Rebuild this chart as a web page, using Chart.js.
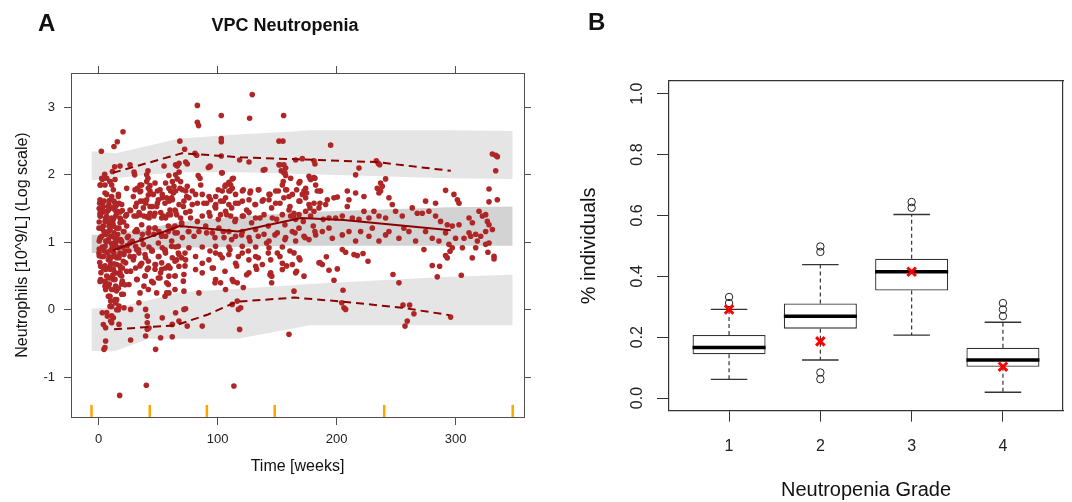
<!DOCTYPE html>
<html>
<head>
<meta charset="utf-8">
<script src="https://cdn.jsdelivr.net/npm/chart.js@4.4.1/dist/chart.umd.min.js"></script>
<style>
  html, body { margin:0; padding:0; background:#fff; }
  #wrap { position:relative; width:1072px; height:502px; overflow:hidden; font-family:"Liberation Sans", Arial, sans-serif; }
  canvas { position:absolute; top:0; }
  #cA { left:0; }
  #cB { left:540px; }
  .tag { position:absolute; font-weight:bold; font-size:24px; line-height:24px; color:#111; }
</style>
</head>
<body>
<div id="wrap">
  <canvas id="cA" width="570" height="502"></canvas>
  <canvas id="cB" width="532" height="502"></canvas>
  <div class="tag" style="left:38px;top:11px">A</div>
  <div class="tag" style="left:588px;top:10px">B</div>
</div>
<script>
// ---------- panel A : VPC ----------
const xTicksA = [0, 100, 200, 300];
const yTicksA = [-1, 0, 1, 2, 3];
const binEdges = [-6, 43, 91, 148, 240, 348];

// simulated prediction intervals (vertices)
const bandTime = [-6, 14, 42, 68, 117, 160, 177, 294, 348];
const hiTop  = [2.35, 2.32, 2.43, 2.54, 2.60, 2.64, 2.66, 2.66, 2.65];
const hiBot  = [1.92, 1.95, 2.00, 2.04, 2.04, 2.02, 2.01, 1.95, 1.94];
const midTop = [1.11, 1.12, 1.21, 1.30, 1.38, 1.43, 1.45, 1.52, 1.53];
const midBot = [0.84, 0.84, 0.88, 0.92, 0.93, 0.95, 0.95, 0.95, 0.95];
const loTop  = [0.02, 0.03, 0.14, 0.26, 0.31, 0.36, 0.38, 0.49, 0.52];
const loBot  = [-0.61, -0.61, -0.43, -0.43, -0.43, -0.29, -0.23, -0.23, -0.23];

// observed percentiles
const p95Time = [12, 70, 120, 168, 233, 296];
const p95Val  = [2.03, 2.32, 2.26, 2.23, 2.19, 2.06];
const p50Time = [12, 68, 117, 170, 206, 296];
const p50Val  = [0.88, 1.24, 1.16, 1.36, 1.33, 1.18];
const p05Time = [13, 65, 92, 116, 165, 205, 255, 295];
const p05Val  = [-0.29, -0.23, -0.07, 0.12, 0.18, 0.12, 0.03, -0.08];

// observations [time, log neutrophils]
const obsPoints = [
 [129.1,3.19],[83.0,3.03],[83.0,2.78],[84,2.73],[103.1,2.88],[126.9,2.84],[155.5,2.88],[20.5,2.64],[15.7,2.49],[12.9,2.42],[2.3,2.35],[68.3,2.50],[72.3,2.38],[103.1,2.54],[103.1,2.49],[81.0,2.32],[82.4,2.29],[103.1,2.28],[151.6,2.50],[154.9,2.50],[18.0,2.13],[13.5,2.12],[26.4,2.15],[55.0,2.13],[64.7,2.15],[66.1,2.13],[67.6,2.17],[73.2,2.19],[74.5,2.16],[92.2,2.11],[93.6,2.13],[126.4,2.19],[118.5,2.22],[151.6,2.15],[155.7,2.15],[157.2,2.10],[5.1,2.01],[3.1,1.93],[1.7,1.85],[11.6,2.05],[9.5,1.90],[11.0,1.85],[29.8,2.04],[30.3,2.0],[41.5,2.06],[40.4,2.0],[41.5,1.95],[40.4,1.90],[59.1,1.99],[64.7,2.0],[67.6,2.04],[66.1,1.94],[68.9,1.90],[83.7,1.99],[85.2,1.95],[103.9,2.03],[112.3,1.94],[109.5,1.89],[111.0,1.85],[138.4,2.07],[153.5,2.06],[155.7,2.03],[157.2,1.99],
 [34.8,1.85],[32.5,1.80],[35.3,1.76],[43.2,1.84],[43.2,1.76],[41.8,1.70],[49.4,1.76],[53.5,1.71],[56.3,1.88],[59.1,1.80],[62.0,1.90],[63.3,1.83],[60.5,1.76],[64.7,1.76],[70.4,1.78],[73.2,1.76],[74.5,1.83],[78.7,1.76],[81.5,1.71],[85.8,1.85],[87.1,1.71],[92.8,1.68],[98.4,1.68],[106.7,1.85],[103.9,1.76],[109.5,1.76],[112.3,1.80],[115.1,1.71],[120.8,1.76],[127.7,1.76],[134.7,1.78],[143.2,1.71],[148.8,1.76],[154.4,1.85],[157.2,1.78],
 [0.9,1.58],[4.6,1.61],[8.7,1.56],[12.9,1.61],[17.1,1.58],[3.1,1.48],[7.3,1.46],[11.6,1.51],[15.7,1.46],[19.9,1.47],[26.9,1.47],[31.1,1.53],[35.3,1.61],[39.6,1.58],[45.2,1.53],[49.4,1.58],[53.5,1.66],[59.1,1.61],[62.0,1.63],[67.6,1.56],[71.7,1.61],[75.9,1.66],[78.7,1.56],[83.0,1.58],[88.5,1.58],[94.1,1.63],[98.4,1.56],[102.5,1.61],[106.7,1.66],[109.5,1.56],[115.1,1.58],[120.8,1.61],[126.4,1.63],[131.9,1.56],[137.5,1.61],[143.2,1.63],[148.8,1.58],[155.7,1.66],
 [1.7,1.39],[6.0,1.36],[10.1,1.31],[14.4,1.39],[18.5,1.34],[22.7,1.39],[29.8,1.39],[34.0,1.44],[38.1,1.39],[42.4,1.36],[46.5,1.39],[52.2,1.44],[56.3,1.36],[60.5,1.41],[64.7,1.46],[68.9,1.36],[73.2,1.44],[77.3,1.36],[83.0,1.31],[87.1,1.39],[92.8,1.44],[98.4,1.51],[102.5,1.41],[106.7,1.46],[111.0,1.39],[115.1,1.34],[120.8,1.39],[126.4,1.44],[131.9,1.36],[139.0,1.41],[146.0,1.36],[154.4,1.41],
 [0.3,1.21],[4.5,1.16],[8.7,1.24],[12.9,1.14],[17.1,1.21],[21.3,1.16],[1.7,1.07],[6.0,1.02],[10.1,1.09],[14.4,0.99],[18.5,1.04],[24.2,1.07],[28.3,1.02],[32.5,1.16],[36.8,1.12],[42.4,1.21],[46.5,1.12],[50.7,1.16],[56.3,1.09],[62.0,1.21],[66.1,1.14],[70.4,1.07],[75.9,1.16],[80.2,1.09],[84.3,1.16],[90.0,1.24],[95.6,1.14],[101.1,1.21],[105.4,1.07],[109.5,1.16],[115.1,1.09],[120.8,1.16],[126.4,1.07],[131.9,1.19],[139.0,1.12],[143.2,1.02],[150.2,1.14],[157.2,1.07],
 [3.1,0.93],[11.5,0.92],[19.9,0.93],[31.1,0.94],[42.3,0.93],[53.5,0.92],[64.7,0.93],[75.9,0.92],[87.1,0.93],[98.3,0.94],[109.5,0.93],[120.7,0.94],[132.0,0.93],[143.2,0.92],[154.4,0.93],
 [0.3,0.84],[4.5,0.87],[8.7,0.79],[12.9,0.84],[17.1,0.77],[21.3,0.82],[25.5,0.87],[29.7,0.79],[33.9,0.84],[39.5,0.77],[45.1,0.87],
 [50.7,0.79],[56.3,0.84],[61.9,0.77],[67.5,0.82],[73.1,0.74],[81.5,0.79],[87.1,0.69],[92.7,0.74],[98.3,0.84],[103.9,0.77],[109.5,0.82],[115.1,0.69],[120.7,0.84],[126.3,0.74],[132.0,0.79],[137.6,0.67],[144.6,0.74],[150.2,0.84],[154.4,0.69],
 [1.7,0.645],[5.9,0.596],[10.1,0.67],[14.3,0.547],[18.5,0.62],[22.7,0.695],[26.9,0.572],[31.1,0.62],[35.3,0.67],[40.9,0.596],
 [1.7,0.448],[5.9,0.399],[10.1,0.473],[14.3,0.35],[19.9,0.424],[25.5,0.374],[32.5,0.448],[38.1,0.35],
 [47.9,0.67],[52.1,0.547],[56.3,0.62],[59.1,0.498],
 [67.5,0.645],[71.7,0.522],[81.5,0.596],[87.1,0.547],[95.5,0.62],[98.3,0.448],[102.5,0.399],
 [106.7,0.30],[112.3,0.448],[116.5,0.399],
 [126.3,0.547],[132.0,0.645],[144.6,0.547],[145.5,0.498],[154.4,0.596],
 [5.9,0.30],[8.7,0.20],[10.1,0.128],[14.3,0.10],[17.1,0.054],[21.3,0.03],[26.9,0.005],
 [33.9,0.103],[39.5,0.005],
 [59.1,0.25],[71.7,0.276],[84.3,0.25],[71.7,0.005],[73.1,0.014],
 [3.1,-0.045],[7.3,-0.094],[10.1,-0.168],[5.9,-0.266],[11.0,-0.193],
 [17.1,-0.217],[40.9,-0.094],[40.9,-0.193],[40.9,-0.29],[42.3,-0.27],
 [53.5,-0.12],[64.7,-0.045],[67.5,-0.168],[61.9,-0.217],[74.5,-0.242],[87.1,-0.242],
 [112.3,0.079],[116.5,0.128],[119.4,0.03],[117.5,0.005],
 [5.9,-0.464],[5.3,-0.562],[4.5,-0.587],[26.9,-0.449],[39.5,-0.39],[52.1,-0.414],[61.9,-0.40],[47.9,-0.587],
 [118.5,-0.291],[40.1,-1.12],[17.7,-1.27],[113.7,-1.13],[160.0,-0.365],
 [195.0,2.44],[330.9,2.31],[333.7,2.29],[335.1,2.27],[333.7,2.06],
 [165.6,2.22],[171.2,2.24],[181.0,2.21],[181.8,2.16],
 [233.4,2.21],[235.1,2.17],[236.2,2.15],
 [216.0,2.0],[218.8,2.10],[237.0,1.88],[241.2,1.94],[238.4,1.83],
 [161.4,1.95],[168.4,1.88],[176.8,1.98],[178.2,1.93],[181.0,1.96],[182.4,1.85],[174.0,1.80],[172.6,1.76],
 [183.8,1.76],[186.6,1.76],[162.8,1.71],[160.0,1.68],[171.2,1.71],[174.0,1.66],[168.4,1.61],
 [192.2,1.63],[197.8,1.66],[200.6,1.67],[209.0,1.76],[210.4,1.63],[216.0,1.73],[223.0,1.68],[234.2,1.80],[235.6,1.73],[237.0,1.76],[244.0,1.66],[246.8,1.56],
 [274.8,1.61],[283.2,1.58],[291.6,1.77],[298.6,1.71],[301.5,1.63],[302.9,1.58],[328.1,1.79],[328.1,1.60],[335.1,1.63],
 [160,1.48],[164.2,1.43],[161.4,1.39],[168.4,1.41],[165.6,1.34],[174,1.46],[176.8,1.56],[181,1.58],[178.2,1.39],[181,1.46],[185.2,1.51],[190.8,1.56],[193.6,1.36],[199.2,1.36],[204.8,1.39],[209,1.53],[213.2,1.36],[218.8,1.34],[223,1.46],[227.2,1.36],[231.4,1.46],[235.6,1.39],[241.2,1.36],[249.6,1.46],[255.2,1.39],[263.6,1.51],[267.8,1.43],[272,1.43],[277.6,1.46],[283.2,1.39],[287.4,1.31],[293,1.26],[297.2,1.24],[302.9,1.26],[311.3,1.36],[314.1,1.29],[319.7,1.46],[322.5,1.39],[325.3,1.41],[326.7,1.31],[328.1,1.26],[330.9,1.19],[325.3,1.16],[316.9,1.12],[311.3,1.14],[307.1,1.06],[312.7,1.09],[321.1,1.09],[318.3,1.02],[328.1,0.99],
 [162.8,1.16],[168.4,1.21],[172.6,1.09],[165.6,1.02],[176.8,1.04],[182.4,1.11],[188,1.16],[193.6,1.21],[196.4,1.06],[204.8,1.11],[210.4,1.16],[216,1.02],[220.2,1.16],[227.2,1.09],[230,1.21],[235.6,1.02],[241.2,1.11],[244,1.16],[252.4,1.06],[256.6,1.21],[260.8,1.16],[266.4,1.02],[274.8,1.16],[280.4,1.06],[286,1.02],[291.6,1.14],[294.4,0.97],[300,1.06],[297.2,0.92],[305.7,0.92],[316.9,0.92],[325.3,0.97],
 [164.2,0.843],[168.4,0.769],[162.8,0.67],[165.6,0.547],[172.6,0.498],
 [185.2,0.695],[188,0.67],[193.6,0.586],[200.6,0.606],[191.4,0.784],[197.8,0.438],
 [204.8,0.892],[207.6,0.853],[214.6,0.818],[217.4,0.803],[222.2,0.833],[226.4,0.72],
 [247.4,0.522],[252.4,0.399],
 [164.2,0.276],[205.4,0.29],[204.3,0.103],[206.2,0.03],[207.6,0.005],
 [255.8,0.069],[261.4,0.069],[265,-0.059],[259.4,-0.168],[257.5,-0.242],[295.8,-0.109],
 [273.4,0.892],[280.4,0.655],[286.6,0.645],[284.6,0.488],[291.6,0.803],[293,0.769],[295.3,0.867],[304.8,0.512],[314,0.769],[327.2,0.853],[332.3,0.793],[332.3,0.754],
 [1.2,1.85],[6.8,1.95],[13.8,1.93],[5.4,1.73],[11.0,1.68],[16.6,1.71],[2.6,1.58],[8.2,1.53],[13.8,1.48],[19.4,1.56],[1.2,1.43],[6.8,1.38],[12.4,1.34],[18.0,1.36],[23.6,1.41],
 [4.0,1.24],[9.6,1.19],[15.2,1.21],[20.8,1.16],[2.6,1.09],[8.2,1.04],[13.8,1.06],[19.4,1.01],[25.0,1.09],[5.4,0.94],[11.0,0.89],[16.6,0.92],[22.2,0.87],
 [4.0,0.79],[9.6,0.74],[15.2,0.77],[20.8,0.72],[26.4,0.79],[6.8,0.62],[12.4,0.60],[18.0,0.65],[23.6,0.57],[8.2,0.47],[13.8,0.45],[19.4,0.50],
 [5.4,0.35],[11.0,0.30],[16.6,0.32],[22.2,0.37],[8.2,0.20],[13.8,0.15],[19.4,0.23],[9.6,0.05],[15.2,0.00],[11.0,-0.09],
 [30.6,1.78],[36.2,1.85],[41.8,1.80],[47.4,1.88],[32.0,1.58],[37.6,1.61],[43.2,1.53],[50.2,1.63],[55.8,1.58],[61.4,1.66],
 [34.8,1.41],[40.4,1.38],[47.4,1.43],[53.0,1.36],[58.6,1.41],[64.2,1.48],[32.0,1.19],[36.2,1.04],[41.8,1.14],[47.4,1.21],[53.0,1.09],[58.6,1.16],[64.2,1.24],[69.8,1.29],
 [33.4,0.89],[39.0,0.82],[44.6,0.89],[50.2,0.79],[55.8,0.87],[61.4,0.94],[67.0,0.84],[36.2,0.69],[41.8,0.62],[47.4,0.67],[53.0,0.60],[58.6,0.65],[64.2,0.72],[69.8,0.77],
 [39.0,0.50],[44.6,0.42],[50.2,0.47],[57.2,0.40],[64.2,0.50],[41.8,0.30],[48.8,0.25],[55.8,0.20],[64.2,0.30],
 [0.5,1.50],[4,1.45],[9,1.62],[12,1.28],[16,1.12],[0.5,1.02],[6,1.12],[11,0.98],[17,0.80],[1,0.70],[7,0.85],[13,0.68],[18,0.55],[2,0.55],[9,0.38],[15,0.28],
 [0.5,0.90],[4,0.62],[21,1.30],[24,0.95],[0.5,1.30],[3,1.20],[15,1.55],[20,0.62],[0.5,0.80],[5,0.42],[12,0.52],[8,1.30],[14,1.0],[18,1.45],
 [2.6,1.95],[5.4,1.85],[9.6,1.90],[12.4,1.78],[6.8,1.71],[1.2,1.63],[4.0,1.53],[8.2,1.48],[13.8,1.58],[16.6,1.68],[1.2,1.39],[5.4,1.31],[11.0,1.36],[15.2,1.43],
 [2.6,1.21],[8.2,1.16],[12.4,1.24],[18.0,1.29],[1.2,1.06],[6.8,1.01],[11.0,1.09],[16.6,1.04],[4.0,0.92],[9.6,0.87],[13.8,0.94],[2.6,0.79],[8.2,0.74],[12.4,0.79],[18.0,0.84],
 [5.4,0.65],[9.6,0.60],[15.2,0.67],[6.8,0.50],[12.4,0.45],[18.0,0.52],[8.2,0.35],[13.8,0.30],[19.4,0.38],[9.6,0.20],[15.2,0.15],[20.8,0.23],[11.0,0.05],[16.6,0.00],[6.8,-0.04],[12.4,-0.12],[4.0,-0.22],[1.2,0.42],
 [23.6,1.80],[29.2,1.68],[34.8,1.75],[40.4,1.63],[46.0,1.71],[51.6,1.78],[57.2,1.66],[62.8,1.73],[68.4,1.80],[74.0,1.68],
 [26.4,1.48],[32.0,1.39],[37.6,1.51],[43.2,1.43],[48.8,1.53],[54.4,1.39],[60.0,1.48],[65.6,1.41],[71.2,1.53],[76.8,1.46],
 [23.6,1.24],[30.6,1.16],[36.2,1.26],[41.8,1.14],[47.4,1.21],[53.0,1.11],[58.6,1.24],[64.2,1.14],[69.8,1.26],[75.4,1.16],
 [26.4,0.99],[32.0,0.89],[37.6,0.97],[44.6,0.87],[50.2,0.99],[55.8,0.89],[61.4,1.02],[67.0,0.94],[72.6,0.84],
 [29.2,0.74],[34.8,0.65],[41.8,0.72],[47.4,0.60],[53.0,0.695],[60.0,0.62],[65.6,0.74],[72.6,0.65],
 [32.0,0.45],[39.0,0.50],[46.0,0.40],[51.6,0.47],[58.6,0.375],[64.2,0.50],[71.2,0.424],[34.8,0.25],[57.2,0.25],
 [93.6,2.12],[103.4,2.03],[113.2,1.95],[139.8,2.08],[152.4,2.15],[156.6,2.03],[155.2,1.90],[169.2,1.90],[177.6,1.95],[181.8,1.95],
 [100.6,1.78],[106.2,1.83],[110.4,1.76],[121.6,1.78],[127.2,1.73],[134.2,1.78],[144,1.71],[151,1.76],[158,1.78],[166.4,1.78],[174.8,1.73],[186,1.76],
 [90.8,1.58],[97.8,1.53],[104.8,1.61],[111.8,1.51],[117.4,1.58],[124.4,1.48],[131.4,1.56],[138.4,1.63],[145.4,1.51],[152.4,1.58],[160.8,1.53],[169.2,1.61],[177.6,1.51],[186,1.58],
 [93.6,1.39],[100.6,1.34],[107.6,1.41],[114.6,1.31],[121.6,1.39],[128.6,1.29],[135.6,1.36],[142.6,1.24],[149.6,1.34],[156.6,1.26],[163.6,1.39],[172,1.31],[180.4,1.24],[188.8,1.34],
 [90.8,1.14],[97.8,1.07],[104.8,1.16],[111.8,1.04],[120.2,1.11],[127.2,1.02],[134.2,1.09],[141.2,0.99],[148.2,1.11],[156.6,1.04],[165,1.14],[173.4,1.07],[181.8,1.16],
 [93.6,0.87],[102,0.82],[110.4,0.89],[117.4,0.79],[125.8,0.87],[134.2,0.77],[142.6,0.84],[152.4,0.79],[160.8,0.87],[169.2,0.74],[186,0.70],
 [96.4,0.62],[106.2,0.57],[116,0.65],[124.4,0.52],[132.8,0.60],[144,0.52],[158,0.65],[166.4,0.57],
 [97.8,0.40],[113.2,0.42],[121.6,0.33],[145.4,0.40]
];

// ---------- panel B : boxplots ----------
const grades      = [1, 2, 3, 4];
const boxLow      = [0.144, 0.228, 0.353, 0.103];
const boxHigh     = [0.207, 0.311, 0.458, 0.165];
const medians     = [0.166, 0.269, 0.415, 0.125];
const whiskerLow  = [0.061, 0.125, 0.207, 0.019];
const whiskerHigh = [0.291, 0.438, 0.603, 0.249];
const outlierGrade = [1, 1, 2, 2, 2, 2, 3, 3, 4, 4, 4];
const outlierVal   = [0.312, 0.332, 0.480, 0.498, 0.084, 0.062, 0.625, 0.644, 0.269, 0.291, 0.312];
const observedPct  = [0.291, 0.186, 0.415, 0.103];
const yTicksB = [0, 0.2, 0.4, 0.6, 0.8, 1.0];
const yLabelsB = ['0.0', '0.2', '0.4', '0.6', '0.8', '1.0'];

const family = '"Liberation Sans", Arial, sans-serif';
Chart.defaults.font.family = family;
Chart.defaults.animation = false;

const xy = (xs, ys) => xs.map((x, i) => ({x, y: ys[i]}));
const setTicks = vals => s => { s.ticks = vals.map(v => ({value: v})); };

// ---------- chart A ----------
const axisA = '#505050';
const bandLight = '#e5e5e5', bandDark = '#d3d3d3';
const dsA = [
  {type:'line', data: xy(p95Time, p95Val), borderColor:'#8b0000', borderWidth:2, borderDash:[8,5], pointRadius:0, order:0},
  {type:'line', data: xy(p50Time, p50Val), borderColor:'#8b0000', borderWidth:2, pointRadius:0, order:0},
  {type:'line', data: xy(p05Time, p05Val), borderColor:'#8b0000', borderWidth:2, borderDash:[8,5], pointRadius:0, order:0},
  {data: obsPoints.map(([x, y]) => ({x, y})), backgroundColor:'#b02626', borderWidth:0, pointRadius:2.8, order:1},
  {data: binEdges.map(x => ({x, y: -1.5})), pointStyle:'line', rotation:90, pointRadius:6, borderColor:'#ffa500', borderWidth:2.5, order:1}
];
[[hiTop, hiBot, bandLight], [midTop, midBot, bandDark], [loTop, loBot, bandLight]].forEach(([top, bot, col]) => {
  const i = dsA.length;
  dsA.push({type:'line', data: xy(bandTime, top), borderColor:'rgba(0,0,0,0)', pointRadius:0, fill:{target: i + 1}, backgroundColor: col, order:3});
  dsA.push({type:'line', data: xy(bandTime, bot), borderColor:'rgba(0,0,0,0)', pointRadius:0, fill:false, order:3});
});

const tickFontA = {size:13, family};
new Chart(document.getElementById('cA'), {
  type:'scatter',
  data:{ datasets: dsA },
  options:{
    responsive:false, devicePixelRatio:1, events:[],
    layout:{ padding:0 },
    plugins:{
      legend:{display:false}, tooltip:{enabled:false},
      title:{display:true, text:'VPC Neutropenia', color:'#111', font:{size:18, weight:'bold', family}, padding:{top:15, bottom:10}}
    },
    scales:{
      x:{type:'linear', position:'bottom', min:-23.2, max:357.5,
         afterBuildTicks: setTicks(xTicksA), afterFit: s => { s.height = 85; },
         grid:{drawOnChartArea:false, tickLength:8, tickColor:axisA},
         border:{color:axisA, width:1},
         ticks:{color:'#222', font:tickFontA, padding:7, maxRotation:0, callback: v => String(v)},
         title:{display:true, text:'Time [weeks]', color:'#111', font:{size:16, family}, padding:{top:0, bottom:26}}},
      x2:{type:'linear', axis:'x', position:'top', min:-23.2, max:357.5,
         afterBuildTicks: setTicks(xTicksA), afterFit: s => { s.height = 73 - 46.6; },
         grid:{drawOnChartArea:false, tickLength:7, tickColor:axisA},
         border:{color:axisA, width:1}, ticks:{display:false}},
      y:{type:'linear', position:'left', min:-1.59, max:3.51,
         afterBuildTicks: setTicks(yTicksA), afterFit: s => { s.width = 71; },
         grid:{drawOnChartArea:false, tickLength:7, tickColor:axisA},
         border:{color:axisA, width:1},
         ticks:{color:'#222', font:tickFontA, padding:9, callback: v => String(v)},
         title:{display:true, text:'Neutrophils [10^9/L] (Log scale)', color:'#111', font:{size:16, family}, padding:{top:13, bottom:0}}},
      y2:{type:'linear', axis:'y', position:'right', min:-1.59, max:3.51,
         afterBuildTicks: setTicks(yTicksA), afterFit: s => { s.width = 46; },
         grid:{drawOnChartArea:false, tickLength:7, tickColor:axisA},
         border:{color:axisA, width:1}, ticks:{display:false}}
    }
  }
});

// ---------- chart B ----------
const medianSegs = [], whiskerSegs = [], capSegs = [];
grades.forEach((g, i) => {
  medianSegs.push({x:g - 0.4, y:medians[i]}, {x:g + 0.4, y:medians[i]}, {x:g + 0.5, y:null});
  whiskerSegs.push({x:g, y:boxHigh[i]}, {x:g, y:whiskerHigh[i]}, {x:g + 0.5, y:null},
                   {x:g, y:boxLow[i]}, {x:g, y:whiskerLow[i]}, {x:g + 0.5, y:null});
  capSegs.push({x:g - 0.2, y:whiskerHigh[i]}, {x:g + 0.2, y:whiskerHigh[i]}, {x:g + 0.5, y:null},
               {x:g - 0.2, y:whiskerLow[i]}, {x:g + 0.2, y:whiskerLow[i]}, {x:g + 0.5, y:null});
});
const axisB = '#333';
const tickFontB = {size:16, family};
new Chart(document.getElementById('cB'), {
  type:'scatter',
  data:{ datasets:[
    {type:'bar', data: grades.map((g, i) => ({x:g, y:[boxLow[i], boxHigh[i]]})), backgroundColor:'#fff',
     borderColor:'#333', borderWidth:1.3, borderSkipped:false, barPercentage:0.8, categoryPercentage:1, order:5},
    {type:'line', data: whiskerSegs, borderColor:'#333', borderWidth:1.2, borderDash:[4,3], pointRadius:0, spanGaps:false, order:4},
    {type:'line', data: capSegs, borderColor:'#333', borderWidth:1.3, pointRadius:0, spanGaps:false, order:3},
    {type:'line', data: medianSegs, borderColor:'#000', borderWidth:3.5, pointRadius:0, spanGaps:false, order:2},
    {data: xy(outlierGrade, outlierVal), pointStyle:'circle', pointRadius:3.7, borderColor:'#222', borderWidth:1, backgroundColor:'rgba(0,0,0,0)', order:1},
    {data: xy(grades, observedPct), pointStyle:'crossRot', pointRadius:6, borderColor:'#ff0000', borderWidth:3, order:0}
  ]},
  options:{
    responsive:false, devicePixelRatio:1, events:[],
    layout:{ padding:{top:81, right:5, left:0, bottom:0} },
    plugins:{ legend:{display:false}, tooltip:{enabled:false} },
    scales:{
      x:{type:'linear', position:'bottom', min:0.342, max:4.658, offset:false,
         afterBuildTicks: setTicks(grades), afterFit: s => { s.height = 91.3; },
         grid:{drawOnChartArea:false, offset:false, tickLength:11, tickColor:axisB},
         border:{color:axisB, width:1.2},
         ticks:{color:'#222', font:tickFontB, padding:15, maxRotation:0, callback: v => String(v)},
         title:{display:true, text:'Neutropenia Grade', color:'#111', font:{size:20, family}, padding:{top:0, bottom:0}}},
      x2:{type:'linear', axis:'x', position:'top', afterFit: s => { s.height = 0; },
         grid:{display:false}, border:{color:axisB, width:1.2}, ticks:{display:false}},
      y:{type:'linear', position:'left', min:-0.0416, max:1.0416,
         afterBuildTicks: setTicks(yTicksB), afterFit: s => { s.width = 129; },
         grid:{drawOnChartArea:false, tickLength:12, tickColor:axisB},
         border:{color:axisB, width:1.2},
         ticks:{color:'#222', font:tickFontB, padding:8, minRotation:90, maxRotation:90, crossAlign:'center',
                callback: v => yLabelsB[yTicksB.indexOf(v)]},
         title:{display:true, text:'% individuals', color:'#111', font:{size:20, family}, padding:{top:37, bottom:0}}},
      y2:{type:'linear', axis:'y', position:'right', afterFit: s => { s.width = 0; },
         grid:{display:false}, border:{color:axisB, width:1.2}, ticks:{display:false}}
    }
  }
});
</script>
</body>
</html>
